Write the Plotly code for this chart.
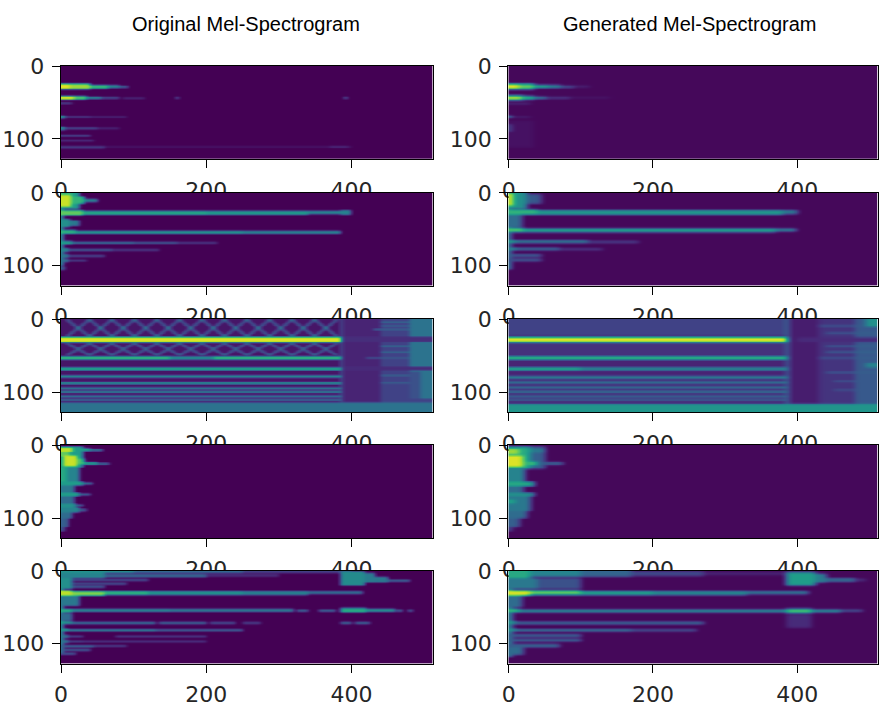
import numpy as np
import plotly.graph_objects as go

N_MELS = 128
N_FRAMES = 512
COL_TITLES = ["Original Mel-Spectrogram", "Generated Mel-Spectrogram"]
X_TICKS = [0, 200, 400]
Y_TICKS = [0, 100]
ORIG_BG = 0.0
GEN_BG = 0.02

# Each entry: (mel_row_start, mel_row_end, frame_start, frame_end, level 0..1)
ORIG_1 = [
    (24, 32, 0, 40, 0.55), (25, 31, 0, 12, 0.96), (25, 31, 12, 40, 0.85),
    (26, 31, 40, 65, 0.65), (26, 30, 65, 80, 0.45), (27, 30, 80, 92, 0.28),
    (41, 46, 0, 18, 0.92), (41, 46, 18, 35, 0.7), (42, 45, 35, 55, 0.45),
    (42, 45, 55, 80, 0.2), (43, 45, 85, 115, 0.12), (42, 45, 158, 162, 0.25),
    (42, 45, 390, 394, 0.3), (50, 52, 0, 15, 0.2),
    (68, 72, 0, 5, 0.5), (69, 71, 5, 40, 0.2), (69, 71, 40, 90, 0.12),
    (83, 88, 0, 5, 0.45), (84, 87, 5, 50, 0.22), (84, 87, 50, 80, 0.1),
    (94, 97, 0, 40, 0.18), (101, 103, 0, 45, 0.15),
    (110, 113, 0, 60, 0.2), (110, 112, 60, 400, 0.07), (110, 112, 370, 395, 0.15),
]
GEN_1 = [
    (24, 32, 0, 35, 0.5), (25, 31, 0, 14, 0.95), (25, 31, 14, 35, 0.75),
    (26, 30, 35, 55, 0.6), (26, 30, 55, 72, 0.45), (27, 30, 72, 90, 0.25),
    (27, 29, 90, 112, 0.12),
    (40, 47, 0, 20, 0.5), (41, 46, 0, 18, 0.85), (41, 46, 18, 35, 0.6),
    (42, 45, 35, 52, 0.42), (42, 45, 52, 85, 0.15), (42, 44, 85, 140, 0.07),
    (50, 53, 0, 30, 0.1), (75, 112, 0, 35, 0.045),
    (68, 71, 0, 4, 0.45), (69, 71, 4, 30, 0.1), (80, 90, 0, 5, 0.18),
]
ORIG_2 = [
    (0, 100, 0, 3, 0.5), (0, 22, 0, 25, 0.55), (0, 4, 0, 15, 0.65),
    (3, 19, 0, 14, 0.92), (5, 15, 14, 32, 0.65), (8, 13, 32, 50, 0.42),
    (24, 31, 0, 30, 0.75), (25, 30, 30, 200, 0.6), (25, 30, 200, 340, 0.55),
    (25, 29, 340, 385, 0.5), (24, 30, 385, 399, 0.45),
    (36, 47, 0, 12, 0.5), (38, 45, 12, 25, 0.4),
    (51, 56, 0, 20, 0.65), (52, 56, 20, 250, 0.52), (52, 56, 250, 385, 0.45),
    (66, 71, 0, 15, 0.55), (67, 70, 15, 100, 0.4), (67, 70, 100, 160, 0.3),
    (67, 70, 160, 215, 0.17),
    (76, 81, 0, 10, 0.45), (77, 80, 10, 70, 0.3), (77, 80, 70, 135, 0.17),
    (84, 89, 0, 10, 0.4), (85, 88, 10, 60, 0.22),
    (91, 95, 0, 10, 0.38), (92, 94, 10, 35, 0.22), (101, 106, 0, 5, 0.3),
]
GEN_2 = [
    (0, 105, 0, 3, 0.45), (0, 22, 0, 25, 0.5), (2, 15, 25, 45, 0.28),
    (1, 18, 0, 7, 0.92),
    (23, 30, 0, 40, 0.65), (24, 30, 40, 380, 0.55), (24, 29, 380, 400, 0.42),
    (30, 47, 0, 18, 0.35),
    (48, 54, 0, 20, 0.7), (49, 54, 20, 370, 0.55), (49, 53, 370, 398, 0.4),
    (65, 69, 0, 10, 0.55), (65, 69, 10, 110, 0.4), (66, 69, 110, 180, 0.2),
    (75, 79, 0, 10, 0.45), (75, 79, 10, 70, 0.3), (76, 79, 70, 130, 0.15),
    (84, 88, 0, 45, 0.3), (90, 94, 0, 45, 0.25),
]
ORIG_3 = [
    (0, 114, 0, 386, 0.06),
    (0, 114, 386, 440, 0.1), (0, 114, 440, 480, 0.2), (0, 114, 480, 512, 0.38),
    (24, 31, 386, 512, 0.13), (65, 70, 386, 512, 0.12),
    (3, 5, 440, 480, 0.33), (8, 10, 440, 480, 0.33), (13, 15, 430, 480, 0.3),
    (36, 38, 440, 480, 0.33), (44, 46, 440, 480, 0.33), (52, 54, 420, 480, 0.3),
    (76, 78, 440, 480, 0.3), (86, 88, 440, 480, 0.3),
    (72, 110, 480, 495, 0.25), (109, 114, 440, 512, 0.2),
    (0, 114, 385, 387, 0.35), (114, 128, 0, 512, 0.38),
    (24, 32, 0, 386, 0.55), (25, 31, 0, 386, 0.95),
    (51, 55, 0, 386, 0.7), (51, 55, 150, 210, 0.5),
    (66, 70, 0, 386, 0.6), (77, 80, 0, 386, 0.5), (86, 89, 0, 386, 0.45),
    (93, 96, 0, 386, 0.4), (98, 101, 0, 386, 0.38), (104, 107, 0, 386, 0.38),
    (109, 112, 0, 386, 0.3),
]
# lattice pattern in the original sample 3: crossing centres (frames) and
# (centre row, half height, level) of the two lattice bands
ORIG_3_LATTICE_CENTERS = [23, 54, 85, 116, 147, 178, 209, 240, 271, 302, 333, 364]
ORIG_3_LATTICE_ROWS = [(12, 11, 0.5), (41, 8, 0.4)]
ORIG_3_LATTICE_HALF_W = 15
ORIG_3_LATTICE_END = 386
GEN_3 = [
    (0, 116, 0, 386, 0.1), (0, 22, 0, 386, 0.2), (33, 50, 0, 386, 0.14),
    (0, 116, 386, 430, 0.08), (0, 116, 430, 480, 0.15), (0, 116, 480, 512, 0.28),
    (25, 31, 400, 512, 0.12),
    (8, 10, 430, 512, 0.3), (18, 20, 440, 512, 0.3), (36, 38, 440, 512, 0.3),
    (44, 46, 440, 512, 0.32), (52, 54, 430, 512, 0.3), (72, 74, 440, 512, 0.3),
    (84, 86, 450, 512, 0.28), (96, 98, 450, 512, 0.28),
    (0, 10, 495, 512, 0.5), (60, 66, 495, 512, 0.45),
    (0, 116, 385, 388, 0.45), (116, 128, 0, 512, 0.52),
    (24, 32, 0, 386, 0.5), (25, 31, 0, 386, 0.95), (51, 55, 0, 386, 0.72),
    (66, 70, 0, 100, 0.65), (66, 70, 100, 386, 0.5), (78, 81, 0, 386, 0.5),
    (85, 88, 0, 386, 0.42), (92, 95, 0, 386, 0.4), (98, 101, 0, 386, 0.38),
    (104, 107, 0, 386, 0.35), (109, 112, 0, 386, 0.3),
]
ORIG_4 = [
    (2, 30, 0, 30, 0.55), (3, 9, 0, 16, 0.9), (9, 15, 0, 12, 0.75),
    (14, 29, 3, 22, 0.92), (18, 26, 22, 32, 0.7), (4, 8, 16, 40, 0.55),
    (5, 8, 40, 57, 0.35), (23, 27, 32, 50, 0.5), (24, 27, 50, 66, 0.3),
    (30, 50, 0, 25, 0.45), (30, 50, 0, 8, 0.6), (50, 55, 0, 30, 0.55),
    (51, 54, 30, 43, 0.35), (55, 65, 0, 18, 0.4), (65, 70, 0, 25, 0.55),
    (66, 69, 25, 40, 0.3), (70, 80, 0, 18, 0.35), (80, 85, 0, 20, 0.5),
    (81, 84, 20, 30, 0.3), (85, 92, 0, 25, 0.45), (87, 91, 25, 35, 0.25),
    (92, 100, 0, 15, 0.35), (100, 112, 0, 10, 0.3), (112, 118, 0, 5, 0.25),
]
GEN_4 = [
    (2, 32, 0, 50, 0.3), (2, 32, 0, 30, 0.6), (5, 12, 0, 15, 0.85),
    (14, 30, 0, 20, 0.95), (4, 10, 30, 50, 0.4), (22, 28, 20, 40, 0.65),
    (23, 27, 40, 75, 0.3), (30, 50, 0, 22, 0.45), (50, 56, 0, 35, 0.6),
    (56, 65, 0, 20, 0.35), (65, 70, 0, 35, 0.5), (70, 90, 0, 30, 0.4),
    (74, 80, 0, 10, 0.55), (90, 100, 0, 25, 0.35), (100, 112, 0, 15, 0.3),
    (112, 118, 0, 5, 0.2),
]
ORIG_5 = [
    (0, 115, 0, 3, 0.5),
    (0, 3, 0, 100, 0.5), (0, 3, 100, 250, 0.35), (0, 3, 250, 400, 0.2),
    (3, 10, 0, 60, 0.45), (4, 9, 60, 200, 0.3), (4, 8, 200, 300, 0.12),
    (10, 25, 0, 15, 0.5), (11, 14, 15, 120, 0.25), (16, 19, 15, 90, 0.22),
    (20, 24, 15, 60, 0.25),
    (27, 34, 0, 15, 0.9), (28, 34, 15, 60, 0.8), (28, 33, 60, 120, 0.65),
    (28, 33, 120, 250, 0.52), (28, 33, 250, 340, 0.45), (28, 32, 340, 415, 0.35),
    (34, 48, 0, 25, 0.4),
    (52, 57, 0, 15, 0.6), (52, 56, 15, 150, 0.45), (52, 56, 150, 320, 0.4),
    (53, 56, 325, 340, 0.3), (53, 56, 355, 378, 0.3), (51, 57, 385, 420, 0.6),
    (52, 56, 420, 460, 0.5), (53, 56, 462, 470, 0.3), (53, 56, 478, 484, 0.3),
    (1, 20, 385, 418, 0.48), (3, 16, 418, 432, 0.42), (8, 16, 432, 450, 0.4),
    (12, 15, 450, 480, 0.3),
    (58, 68, 0, 15, 0.35),
    (69, 73, 0, 15, 0.55), (70, 73, 15, 130, 0.4), (70, 73, 135, 200, 0.35),
    (70, 73, 205, 240, 0.25), (70, 73, 250, 275, 0.2), (70, 73, 385, 400, 0.35),
    (70, 73, 405, 425, 0.35),
    (79, 83, 0, 10, 0.5), (80, 83, 10, 130, 0.4), (80, 83, 130, 250, 0.28),
    (88, 92, 0, 10, 0.4), (89, 91, 10, 30, 0.3), (89, 91, 75, 200, 0.25),
    (95, 99, 0, 10, 0.4), (96, 98, 10, 30, 0.3), (96, 98, 30, 200, 0.22),
    (102, 105, 0, 45, 0.3), (102, 104, 45, 90, 0.2),
    (107, 110, 0, 40, 0.3), (112, 115, 0, 20, 0.25),
]
GEN_5 = [
    (0, 118, 0, 5, 0.45),
    (0, 10, 0, 30, 0.6), (0, 8, 30, 100, 0.45), (0, 8, 100, 170, 0.32),
    (1, 7, 170, 270, 0.22), (2, 6, 270, 400, 0.1),
    (10, 25, 0, 100, 0.25), (10, 25, 0, 40, 0.4),
    (27, 34, 0, 30, 0.95), (27, 33, 30, 100, 0.75), (28, 33, 100, 200, 0.6),
    (28, 33, 200, 330, 0.5), (28, 32, 330, 415, 0.4),
    (34, 50, 0, 18, 0.35),
    (2, 20, 385, 425, 0.55), (4, 16, 425, 440, 0.42), (10, 15, 440, 480, 0.35),
    (11, 14, 480, 495, 0.15),
    (60, 78, 385, 420, 0.12),
    (52, 57, 0, 15, 0.65), (53, 57, 15, 385, 0.45), (52, 58, 385, 420, 0.68),
    (53, 57, 420, 460, 0.45), (53, 56, 460, 490, 0.25),
    (69, 73, 0, 10, 0.55), (70, 73, 10, 270, 0.4),
    (79, 83, 0, 10, 0.5), (80, 83, 10, 170, 0.4), (80, 83, 170, 260, 0.25),
    (87, 91, 0, 100, 0.3), (93, 97, 0, 100, 0.3),
    (100, 105, 0, 70, 0.3), (105, 115, 0, 20, 0.35),
]

ORIGINALS = [ORIG_1, ORIG_2, ORIG_3, ORIG_4, ORIG_5]
GENERATED = [GEN_1, GEN_2, GEN_3, GEN_4, GEN_5]


def paint(rects, bg):
    z = np.full((N_MELS, N_FRAMES), bg, dtype=np.float32)
    for r0, r1, c0, c1, v in rects:
        z[r0:r1, c0:c1] = v
    return z


def add_lattice(z, centers, rows, half_w, col_end):
    for rc, hh, lv in rows:
        for c in centers:
            for dc in range(-half_w, half_w + 1):
                col = c + dc
                if col < 0 or col >= col_end:
                    continue
                for sgn in (1, -1):
                    r = int(round(rc + sgn * dc * hh / half_w))
                    r0, r1 = max(r - 1, 0), min(r + 1, N_MELS)
                    z[r0:r1, col] = np.maximum(z[r0:r1, col], lv)
    return z


def tri_kernel(n):
    half = n // 2
    return [half + 1 - abs(i - half) for i in range(n)]


def soften(z, row_k, col_k):
    """Render-time softening (like an upscaled raster), edges padded."""
    rk = np.asarray(row_k, dtype=np.float32)
    rk /= rk.sum()
    ck = np.asarray(col_k, dtype=np.float32)
    ck /= ck.sum()
    pr, pc = len(rk) // 2, len(ck) // 2
    zp = np.pad(z, ((pr, pr), (0, 0)), mode="edge")
    z = sum(rk[i] * zp[i:i + z.shape[0], :] for i in range(len(rk)))
    zp = np.pad(z, ((0, 0), (pc, pc)), mode="edge")
    z = sum(ck[i] * zp[:, i:i + z.shape[1]] for i in range(len(ck)))
    return z.astype(np.float32)


W, H = 887, 713
X_DOMAINS = [(60.7, 432.5), (508.3, 877.7)]
ROW_TOPS = [65.7, 192.5, 319.0, 445.0, 570.5]
PANEL_H = 93.3
TITLE_X = [246, 689]

fig = go.Figure()
layout = {}
for i in range(5):
    for j in range(2):
        k = i * 2 + j + 1
        if j == 0:
            z = paint(ORIGINALS[i], ORIG_BG)
            if i == 2:
                add_lattice(z, ORIG_3_LATTICE_CENTERS, ORIG_3_LATTICE_ROWS,
                            ORIG_3_LATTICE_HALF_W, ORIG_3_LATTICE_END)
            z = soften(z, [1, 2, 1], tri_kernel(11))
        else:
            z = paint(GENERATED[i], GEN_BG)
            z = soften(z, [1, 2, 3, 2, 1], tri_kernel(17))
        fig.add_trace(go.Heatmap(
            z=z, colorscale="Viridis", zmin=0, zmax=1, showscale=False,
            zsmooth="best", hoverinfo="skip",
            xaxis=f"x{k}", yaxis=f"y{k}"))
        x0, x1 = X_DOMAINS[j]
        top = ROW_TOPS[i]
        axis_common = dict(
            showgrid=False, zeroline=False, showline=True, linecolor="black",
            linewidth=1.3, mirror=True, ticks="outside", ticklen=8,
            tickwidth=1.3, tickcolor="black", automargin=False,
            tickfont=dict(family="DejaVu Sans", size=22, color="#262626"),
        )
        layout[f"xaxis{k}"] = dict(
            domain=[x0 / W, x1 / W], range=[-0.5, N_FRAMES - 0.5],
            tickvals=X_TICKS, anchor=f"y{k}", ticklabelstandoff=3, **axis_common)
        layout[f"yaxis{k}"] = dict(
            domain=[1 - (top + PANEL_H) / H, 1 - top / H],
            range=[N_MELS - 0.5, -0.5], tickvals=Y_TICKS, anchor=f"x{k}",
            ticklabelstandoff=3, **axis_common)

annotations = []
for j, t in enumerate(COL_TITLES):
    annotations.append(dict(
        text=t, x=TITLE_X[j] / W, y=1 - 24 / H, xref="paper", yref="paper",
        xanchor="center", yanchor="middle", showarrow=False,
        font=dict(family="Liberation Sans, Arial", size=20, color="black")))

fig.update_layout(
    width=W, height=H, margin=dict(l=0, r=0, t=0, b=0, pad=0),
    paper_bgcolor="white", plot_bgcolor="white", showlegend=False,
    annotations=annotations, **layout)

fig.write_html(
    "out.html",
    config={"displayModeBar": False},
    post_script="document.body.style.margin='0';document.body.style.padding='0';"
                "document.body.style.overflow='hidden';")
